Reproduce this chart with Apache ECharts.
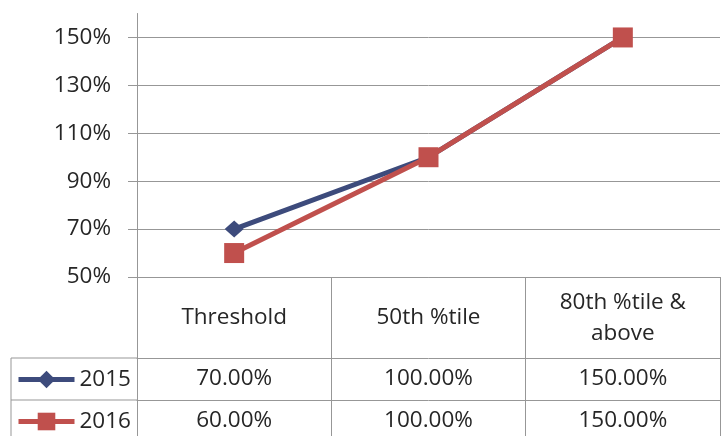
<!DOCTYPE html>
<html>
<head>
<meta charset="utf-8">
<script src="https://cdn.jsdelivr.net/npm/echarts@6/dist/echarts.min.js"></script>
<style>
html,body{margin:0;padding:0;background:#fff;}
#chart{width:723px;height:436px;}
</style>
</head>
<body>
<div id="chart"></div>
<script>
// ---- data ----
var categories = ['Threshold', '50th %tile', '80th %tile &\nabove'];
var seriesNames = ['2015', '2016'];
var values2015 = [70, 100, 150];
var values2016 = [60, 100, 150];
var yTicks = [50, 70, 90, 110, 130, 150];

var FONT = '"Open Sans", Lato, sans-serif';
var TXT = '#262626';
var GRID = '#979797';
var BLUE = '#3D4B7C';
var RED = '#C0504D';
var FS = 22.5;

function fmt(v) { return v.toFixed(2) + '%'; }

var chart = echarts.init(document.getElementById('chart'), null, {renderer: 'canvas'});

var gridLeft = 137, gridRight = 3, gridTop = 13.5, tableTop = 277;
var H = 436;
var rowHeader = 81, rowH = 42;

function legendFor(i) {
  return {
    data: [seriesNames[i]],
    orient: 'vertical',
    left: 16,
    padding: 0,
    top: tableTop + rowHeader + rowH * i + rowH / 2 - 11,
    itemWidth: 56,
    itemHeight: 22,
    lineStyle: {width: 5},
    textStyle: {fontFamily: FONT, fontSize: FS, color: TXT, lineHeight: 22},
    selectedMode: false
  };
}

var option = {
  animation: false,
  backgroundColor: '#fff',
  grid: {left: gridLeft, right: gridRight, top: gridTop, bottom: H - tableTop, containLabel: false},
  legend: [legendFor(0), legendFor(1)],
  xAxis: [
    {
      type: 'category',
      data: categories,
      boundaryGap: true,
      axisLine: {show: true, lineStyle: {color: GRID, width: 1}},
      axisTick: {show: true, length: 165, lineStyle: {color: GRID, width: 1}},
      axisLabel: {fontFamily: FONT, fontSize: FS, color: TXT, margin: 41, verticalAlign: 'middle', lineHeight: 31, interval: 0},
      splitLine: {show: false}
    },
    {
      type: 'category',
      data: values2015.map(fmt),
      position: 'bottom',
      offset: rowHeader,
      boundaryGap: true,
      axisLine: {show: true, lineStyle: {color: GRID, width: 1}},
      axisTick: {show: false},
      axisLabel: {fontFamily: FONT, fontSize: FS, color: TXT, margin: rowH / 2, verticalAlign: 'middle', interval: 0},
      splitLine: {show: false}
    },
    {
      type: 'category',
      data: values2016.map(fmt),
      position: 'bottom',
      offset: rowHeader + rowH,
      boundaryGap: true,
      axisLine: {show: true, lineStyle: {color: GRID, width: 1}},
      axisTick: {show: false},
      axisLabel: {fontFamily: FONT, fontSize: FS, color: TXT, margin: rowH / 2, verticalAlign: 'middle', interval: 0},
      splitLine: {show: false}
    }
  ],
  yAxis: {
    type: 'value',
    min: 50,
    max: 160,
    interval: 20,
    axisLine: {show: true, lineStyle: {color: GRID, width: 1}},
    axisTick: {show: true, length: 9, customValues: yTicks, lineStyle: {color: GRID, width: 1}},
    axisLabel: {fontFamily: FONT, fontSize: FS, color: TXT, margin: 26, customValues: yTicks, formatter: function (v) { return v + '%'; }},
    splitLine: {show: true, lineStyle: {color: GRID, width: 1}}
  },
  graphic: [
    {type: 'line', shape: {x1: 11, y1: tableTop + rowHeader, x2: gridLeft, y2: tableTop + rowHeader}, style: {stroke: GRID, lineWidth: 1}},
    {type: 'line', shape: {x1: 11, y1: tableTop + rowHeader + rowH, x2: gridLeft, y2: tableTop + rowHeader + rowH}, style: {stroke: GRID, lineWidth: 1}},
    {type: 'line', shape: {x1: 11, y1: tableTop + rowHeader, x2: 11, y2: H}, style: {stroke: GRID, lineWidth: 1}}
  ],
  series: [
    {
      name: seriesNames[0],
      type: 'line',
      data: values2015,
      symbol: 'diamond',
      symbolSize: [19, 17],
      lineStyle: {color: BLUE, width: 5},
      itemStyle: {color: BLUE},
      z: 2
    },
    {
      name: seriesNames[1],
      type: 'line',
      data: values2016,
      symbol: 'rect',
      symbolSize: 20,
      lineStyle: {color: RED, width: 5},
      itemStyle: {color: RED},
      z: 3
    }
  ]
};
chart.setOption(option);
</script>
</body>
</html>
